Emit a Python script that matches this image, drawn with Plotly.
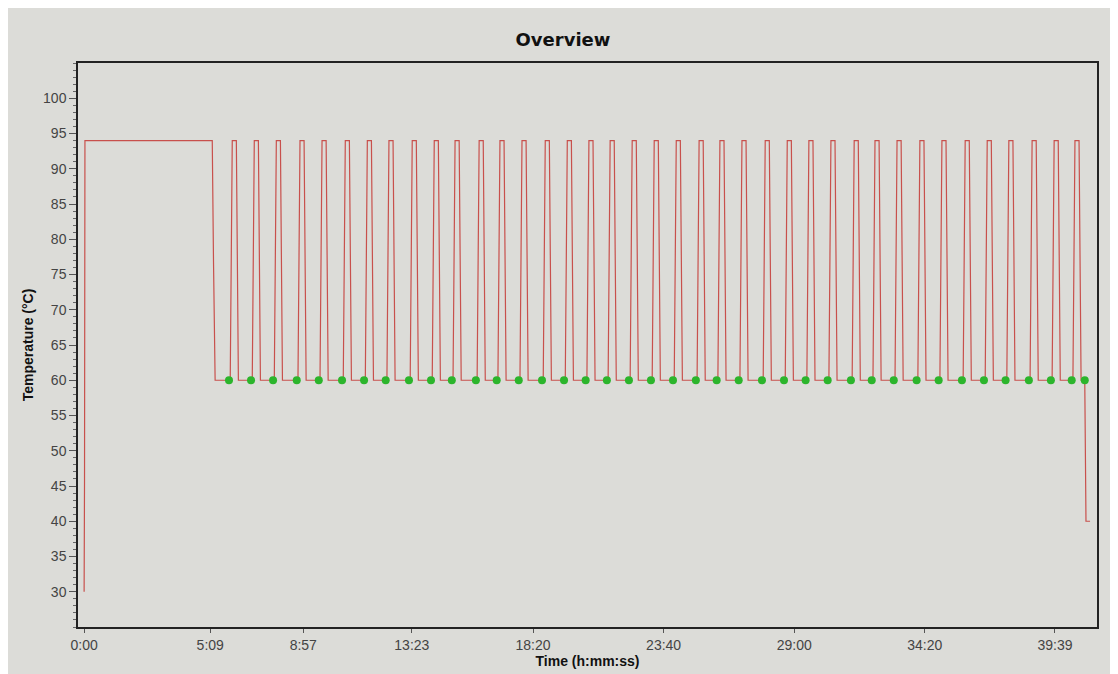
import plotly.graph_objects as go

# ---- data (time in seconds, temperature in °C) ----
initial_time_s = [0, 1, 2, 314, 317, 321]
initial_temp_c = [30, 46, 94, 94, 77, 60]

# start of each denaturation spike (end of the 60 °C step before it)
spike_start_s = [358, 412, 466, 524, 578, 635, 689, 742, 799, 853, 904, 963,
                 1014, 1068, 1125, 1179, 1232, 1284, 1338, 1392, 1446, 1502,
                 1553, 1607, 1664, 1718, 1771, 1825, 1882, 1933, 1987, 2043,
                 2097, 2154, 2208, 2261, 2318, 2372, 2423]

# spike shape offsets (s) and temperatures
spike_offset_s = [0, 5, 15, 20]
spike_temp_c = [60, 94, 94, 60]

final_time_s = [2452, 2455, 2465]
final_temp_c = [60, 40, 40]

# data-collection points (green)
acq_time_s = [355, 409, 463, 521, 575, 632, 686, 739, 796, 850, 901, 960,
              1011, 1065, 1122, 1176, 1229, 1281, 1335, 1389, 1443, 1499,
              1550, 1604, 1661, 1715, 1768, 1822, 1879, 1930, 1984, 2040,
              2094, 2151, 2205, 2258, 2315, 2369, 2420, 2452]
acq_temp_c = [60] * len(acq_time_s)

tick_vals_s = [0, 309, 537, 803, 1100, 1420, 1740, 2060, 2379]
tick_text = ["0:00", "5:09", "8:57", "13:23", "18:20", "23:40", "29:00", "34:20", "39:39"]
y_tick_vals = [30, 35, 40, 45, 50, 55, 60, 65, 70, 75, 80, 85, 90, 95, 100]

# ---- assemble the temperature trace ----
t = list(initial_time_s)
temp = list(initial_temp_c)
for s in spike_start_s:
    for off, v in zip(spike_offset_s, spike_temp_c):
        t.append(s + off)
        temp.append(v)
t += final_time_s
temp += final_temp_c

bg = "#dcdcd8"
fig = go.Figure()
fig.add_trace(go.Scatter(x=t, y=temp, mode="lines",
                         line=dict(color="#c8504c", width=1.2),
                         hoverinfo="skip", showlegend=False))
fig.add_trace(go.Scatter(x=acq_time_s, y=acq_temp_c, mode="markers",
                         marker=dict(color="#2cb52c", size=8),
                         showlegend=False))

fig.update_layout(
    width=1110, height=666,
    margin=dict(l=70, r=21, t=55, b=44),
    paper_bgcolor=bg, plot_bgcolor=bg,
    font=dict(family="Liberation Sans, Arial, sans-serif", size=14, color="#333333"),
    title=dict(text="<b>Overview</b>", x=555 / 1110, xanchor="center",
               y=1 - 32 / 666, yanchor="middle",
               font=dict(size=18, color="#111111", family="DejaVu Sans, sans-serif")),
)
fig.update_xaxes(
    range=[-15, 2482], tickvals=tick_vals_s, ticktext=tick_text,
    showgrid=False, zeroline=False, showline=True, linecolor="#222222", linewidth=1.5,
    mirror=True, ticks="outside", ticklen=4, tickcolor="#555555",
    tickfont=dict(size=14, color="#444444"),
    title=dict(text="<b>Time (h:mm:ss)</b>", standoff=0,
               font=dict(size=14, color="#111111")),
)
fig.update_yaxes(
    range=[25, 105], tickvals=y_tick_vals,
    showgrid=False, zeroline=False, showline=True, linecolor="#222222", linewidth=1.5,
    mirror=True, ticks="outside", ticklen=7, tickcolor="#555555",
    minor=dict(dtick=1, ticks="outside", ticklen=3, tickcolor="#666666"),
    tickfont=dict(size=14, color="#444444"),
    title=dict(text="<b>Temperature (°C)</b>", standoff=6,
               font=dict(size=14, color="#111111")),
)

fig.write_html("out.html")
